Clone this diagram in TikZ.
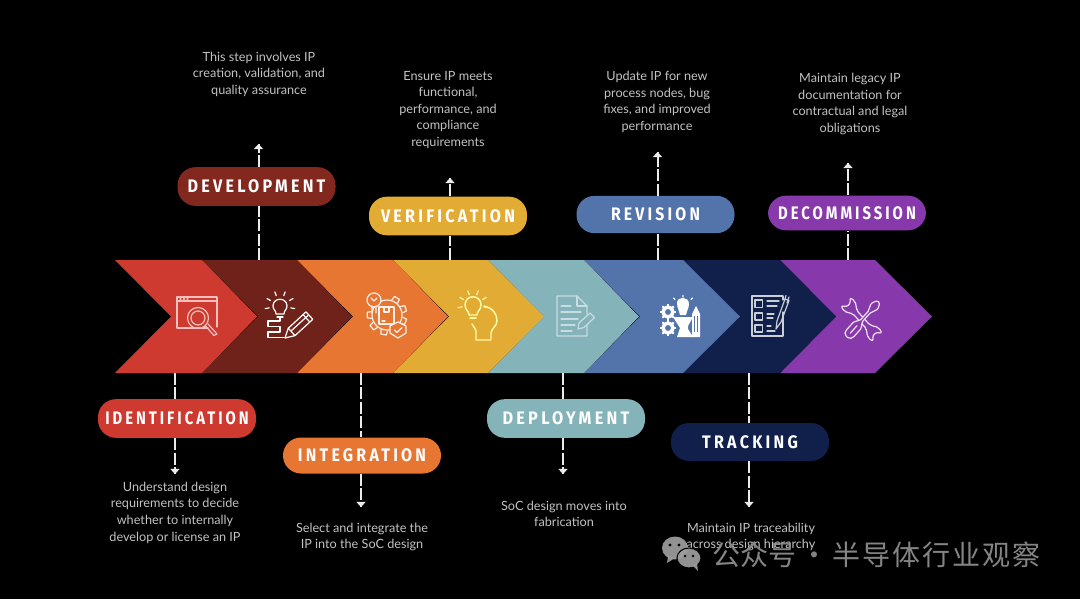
\documentclass[tikz,border=0pt]{standalone}
\usepackage{fontspec}
\usetikzlibrary{arrows.meta,calc}
\newfontfamily\pillfont[FakeStretch=0.84,LetterSpace=17]{Fira Sans}
\newfontfamily\descfont{Lato}
\newfontfamily\cjkmarkA{Noto Sans CJK SC}
\newfontfamily\cjkmarkB[LetterSpace=7]{Noto Sans CJK SC}
\definecolor{cRed}{HTML}{CF3A30}
\definecolor{cMaroon}{HTML}{6F2219}
\definecolor{cMaroonP}{HTML}{82281F}
\definecolor{cOrange}{HTML}{E67632}
\definecolor{cYellow}{HTML}{E2AB34}
\definecolor{cTeal}{HTML}{84B3B9}
\definecolor{cBlue}{HTML}{5373AB}
\definecolor{cNavy}{HTML}{10204B}
\definecolor{cPurple}{HTML}{8739AB}
\definecolor{cDesc}{HTML}{C2C2C2}
\tikzset{
  pill/.style={rectangle,rounded corners=13.5pt,minimum width=118.5pt,minimum height=#1,inner sep=0pt,
    text=white,font=\pillfont\bfseries\fontsize{13.6pt}{15pt}\selectfont},
  desc/.style={align=center,text=cDesc,inner sep=0pt,font=\descfont\fontsize{9.5pt}{12.45pt}\selectfont},
  link/.style={draw=white!92!black,line width=1.5pt,dash pattern=on 9pt off 1.8pt},
  tip/.style={draw=white!92!black,line width=1.5pt,-{Triangle[width=6.8pt,length=3.8pt]}},
  ico/.style={line width=.9pt,line cap=round,line join=round},
}
\newcommand{\chevron}[4]{% colour, x0, x1, tip
  \pgfmathsetmacro{\nx}{#2+56}
  \fill[#1] (#2,260) -- (#3,260) -- (#4,316.5) -- (#3,373) -- (#2,373) -- (\nx,316.5) -- cycle;}
\newcommand{\rays}[5]{% colour, cx, cy, r1, r2
  \foreach \a in {-150,-110,-70,-30,10,170} {
    \draw[ico,#1] ({#2+#4*cos(\a)},{#3+#4*sin(\a)}) -- ({#2+#5*cos(\a)},{#3+#5*sin(\a)});}}
\newcommand{\cog}[4]{% cx, cy, r, hole colour
  \foreach \a in {0,45,...,315} {
    \draw[white,line width=1.6pt] ({#1+(#3-1)*cos(\a)},{#2+(#3-1)*sin(\a)}) -- ({#1+(#3+1.6)*cos(\a)},{#2+(#3+1.6)*sin(\a)});}
  \fill[white] (#1,#2) circle[radius=#3];
  \fill[#4] (#1,#2) circle[radius=#3*0.45];}
\begin{document}
\begin{tikzpicture}[x=.75pt,y=-.75pt]
\fill[black] (0,0) rectangle (1080,599);
\useasboundingbox (0,0) rectangle (1080,599);

% chevrons, from last to first
\chevron{cPurple}{780}{875}{932}
\chevron{cNavy}{683}{780}{836}
\chevron{cBlue}{584}{683}{740}
\chevron{cTeal}{488}{584}{639}
\chevron{cYellow}{393}{488}{544}
\chevron{cOrange}{297}{393}{448}
\chevron{cMaroon}{202}{297}{352}
\chevron{cRed}{115}{202}{257}

% ---------- icons ----------
% 1 window + magnifier
\begin{scope}[ico,draw=red!12!white!80!cRed]
\draw (208,328) -- (177,328) -- (177,297) -- (217,297) -- (217,327);
\draw (177,301) -- (217,301);
\draw (180,299) -- (181,299) (183.5,299) -- (184.5,299) (187,299) -- (188,299);
\draw (198,318) circle[radius=10.5] (198,318) circle[radius=7];
\draw (205.5,326) -- (214,335.5) -- (217,334) -- (208,324);
\end{scope}
% 2 bulb + pencil
\begin{scope}[ico,draw=white]
\draw (276,314) .. controls (276,310) and (273,310) .. (273,306) .. controls (273,297) and (287,297) .. (287,306) .. controls (287,310) and (284,310) .. (284,314) -- cycle;
\draw (277,317) -- (283,317);
\draw (280,318) -- (280,321) -- (268,321) -- (268,326.5) -- (280,326.5) -- (280,332) -- (268,332) -- (268,337.5) -- (284,337.5);
\draw (285,338) -- (288.3,328.2) -- (306,311.9) -- (312.8,319.3) -- (295,335.6) -- cycle;
\draw (291,331) -- (308,315.5) (288.3,328.2) -- (295,335.6);
\draw (303,314.5) -- (309.8,322);
\end{scope}
\rays{white}{280}{306}{11}{15}
% 3 gear, bulb, box, badge
\begin{scope}[ico,draw=white!90!cOrange]
\draw (387,315) circle[radius=15];
\foreach \a in {-60,-20,20,60,100,140,180,220} {
  \draw ({387+16*cos(\a-12)},{315+16*sin(\a-12)}) -- ({387+20*cos(\a-8)},{315+20*sin(\a-8)}) -- ({387+20*cos(\a+8)},{315+20*sin(\a+8)}) -- ({387+16*cos(\a+12)},{315+16*sin(\a+12)});}
\fill[cOrange] (374,300) circle[radius=7];
\draw (374,300) circle[radius=7];
\draw (372,306) -- (372,313) (376,306) -- (376,313) (371,298) -- (374,301) -- (377,298);
\fill[cOrange] (379,307) rectangle (394,324);
\draw (379,307) rectangle (394,324);
\draw (384,307) -- (384,312) -- (389,312) -- (389,307) (382,321) -- (385,321);
\fill[cOrange] (398,322) -- (406,326) -- (406,333) -- (398,338) -- (390,333) -- (390,326) -- cycle;
\draw (398,322) -- (406,326) -- (406,333) -- (398,338) -- (390,333) -- (390,326) -- cycle;
\draw (394.5,330) -- (397,332.5) -- (402,327.5);
\end{scope}
% 4 head + bulb
\begin{scope}[ico,draw=yellow!35!white,line width=1.1pt]
\draw (469,315) .. controls (469,311) and (465,310) .. (465,305) .. controls (465,294) and (481,294) .. (481,305) .. controls (481,310) and (477,311) .. (477,315) -- cycle;
\draw (470,318) -- (476,318);
\draw (484,306) .. controls (493,308) and (497,314) .. (497,321) .. controls (497,326) and (491,329) .. (491,333) -- (491,340) -- (476,340) -- (476,332) .. controls (476,328) and (473,327) .. (472,324);
\end{scope}
\rays{yellow!35!white}{473}{305}{11}{15}
% 5 document + pencil
\begin{scope}[ico,draw=cTeal!45!white]
\draw (587,325) -- (587,336) -- (557,336) -- (557,296) -- (577,296) -- (587,306) -- (587,314);
\draw (577,296) -- (577,306) -- (587,306);
\draw (561,306) -- (571,306) (561,312) -- (581,312) (561,319) -- (578,319) (561,325) -- (575,325) (561,331) -- (572,331);
\draw (578,329) -- (579,323) -- (590,313) -- (594.5,317.5) -- (584,327.5) -- cycle;
\end{scope}
% 6 gears, bulb, tube
\cog{668}{312}{6.5}{cBlue}
\cog{668}{328}{6.5}{cBlue}
\fill[white] (677,303) .. controls (677,296) and (689,296) .. (689,304) .. controls (689,309) and (686,311) .. (686,315) -- (680,315) .. controls (680,311) and (677,309) .. (677,303) -- cycle;
\fill[white] (673,317) -- (693,317) -- (688,326) -- (688,329) -- (693,337) -- (677,337) -- (680,328) -- cycle;
\fill[white] (692,337) -- (692,314) -- (696,306) -- (700,314) -- (700,337) -- cycle;
\draw[cBlue,line width=.6pt] (694.5,316) -- (694.5,332) (697.5,316) -- (697.5,332);
\draw[ico,white] (683,295.5) -- (683,297) (673.5,298) -- (675,299.5) (692.5,298) -- (691,299.5);
% 7 list + pen
\begin{scope}[ico,draw=white!78!cNavy]
\draw (783,312) -- (783,336) -- (752,336) -- (752,296) -- (783,296) -- (783,300);
\draw (755,300) rectangle (762.5,307.5) (755,313) rectangle (762.5,320) (755,325) rectangle (762.5,332);
\draw (767,301) -- (779,301) (767,306) -- (777,306) (767,314) -- (774,314) (767,318) -- (773,318) (767,326) -- (771,326) (767,331) -- (775,331);
\draw (776,329) -- (777,321) -- (785,299) -- (789,300.5) -- (781,322) -- cycle;
\draw (786,295.5) -- (785,299) (789,297) -- (787,303);
\end{scope}
% 8 wrench + screwdriver
\begin{scope}[ico,draw=white!85!cPurple]
\begin{scope}[shift={(861.5,319.5)},rotate=-48]
\draw[rounded corners=1.6pt] (-10,-2.5) -- (10,-2.5) -- (12.6,-4.5) -- (18,-7.5) -- (24,-6) -- (19.5,-2.5) -- (19.5,2.5) -- (24,6) -- (18,7.5) -- (12.6,4.5) -- (10,2.5) -- (-10,2.5) -- (-12.6,4.5) -- (-18,7.5) -- (-24,6) -- (-19.5,2.5) -- (-19.5,-2.5) -- (-24,-6) -- (-18,-7.5) -- (-12.6,-4.5) -- cycle;
\end{scope}
\begin{scope}[shift={(863,319)},rotate=48]
\draw[rounded corners=1.5pt,fill=cPurple] (-24,-3) -- (-21,-5) -- (-7,-5) -- (-4,-1.3) -- (11,-1.3) -- (14,-4) -- (20,-4) -- (24,0) -- (20,4) -- (14,4) -- (11,1.3) -- (-4,1.3) -- (-7,5) -- (-21,5) -- (-24,3) -- cycle;
\draw (-19,0) -- (-9,0);
\end{scope}
\end{scope}

% ---------- pills ----------
\node[pill=29pt,fill=cRed]      (p1) at (177,418.5) {\scalebox{.973}[1]{IDENTIFICATION}};
\node[pill=29pt,fill=cMaroonP]  (p2) at (256.5,186.5) {\scalebox{1.06}[1]{DEVELOPMENT}};
\node[pill=27pt,fill=cOrange]   (p3) at (362,455.5) {\scalebox{1.048}[1]{INTEGRATION}};
\node[pill=29pt,fill=cYellow]   (p4) at (448,216) {\scalebox{1.058}[1]{VERIFICATION}};
\node[pill=29pt,fill=cTeal]     (p5) at (566,418.5) {\scalebox{1.067}[1]{DEPLOYMENT}};
\node[pill=28pt,fill=cBlue]     (p6) at (655.5,214.5) {\scalebox{1.035}[1]{REVISION}};
\node[pill=28.5pt,fill=cNavy]   (p7) at (750,442) {\scalebox{1.054}[1]{TRACKING}};
\node[pill=26pt,fill=cPurple]   (p8) at (847,213) {\scalebox{.975}[1]{DECOMMISSION}};

% ---------- connector ends ----------
\coordinate (s1) at (175,373);   \coordinate (e1) at (175,474);
\coordinate (s2) at (258.5,260); \coordinate (e2) at (258.5,144);
\coordinate (s3) at (361,373);   \coordinate (e3) at (361,507);
\coordinate (s4) at (450,260);   \coordinate (e4) at (450,178);
\coordinate (s5) at (563,373);   \coordinate (e5) at (563,474);
\coordinate (s6) at (657.5,260); \coordinate (e6) at (657.5,152);
\coordinate (s7) at (749,373);   \coordinate (e7) at (749,507);
\coordinate (s8) at (848,260);   \coordinate (e8) at (848,163);

\foreach \i/\near/\far in {1/north/south,3/north/south,5/north/south,7/north/south,2/south/north,4/south/north,6/south/north,8/south/north} {
  \draw[link] (s\i) -- (s\i |- p\i.\near);
  \draw[link] (s\i |- p\i.\far) -- (e\i);
  \draw[tip] ($(e\i)!0.12!(s\i |- p\i.\far)$) -- (e\i);
}

% ---------- descriptions ----------
\node[desc] (d1) at (175,512.7) {Understand design\\requirements to decide\\whether to internally\\develop or license an IP};
\node[desc] (d2) at (259,74.3) {This step involves IP\\creation, validation, and\\quality assurance};
\node[desc] (d3) at (362,537) {Select and integrate the\\IP into the SoC design};
\node[desc] (d4) at (448,109.8) {Ensure IP meets\\functional,\\performance, and\\compliance\\requirements};
\node[desc] (d5) at (564,514) {SoC design moves into\\fabrication};
\node[desc] (d6) at (657,101.8) {Update IP for new\\process nodes, bug\\fixes, and improved\\performance};
\node[desc] (d7) at (751,537) {Maintain IP traceability\\across design hierarchy};
\node[desc] (d8) at (850,103.8) {Maintain legacy IP\\documentation for\\contractual and legal\\obligations};

% ---------- watermark ----------
\begin{scope}[fill=white!62!black,fill opacity=.92]
\fill (675,548) ellipse[x radius=13,y radius=11.5];
\fill (668,556) -- (667,563) -- (675,558) -- cycle;
\fill[draw=black,line width=.8pt] (689,558) ellipse[x radius=12,y radius=10];
\fill (693,566) -- (698,571) -- (697,563) -- cycle;
\end{scope}
\fill[black] (670,545) circle[radius=1.7] (679,545) circle[radius=1.7] (685,556) circle[radius=1.4] (693,556) circle[radius=1.4];
\node[inner sep=0pt,anchor=west,text=white!55!black,text opacity=.95,font=\fontsize{21pt}{24pt}\selectfont] (wm) at (712,554.5) {\cjkmarkA 公众号\hspace{3.2pt}·\hspace{3.2pt}\cjkmarkB 半导体行业观察};
\end{tikzpicture}
\end{document}
